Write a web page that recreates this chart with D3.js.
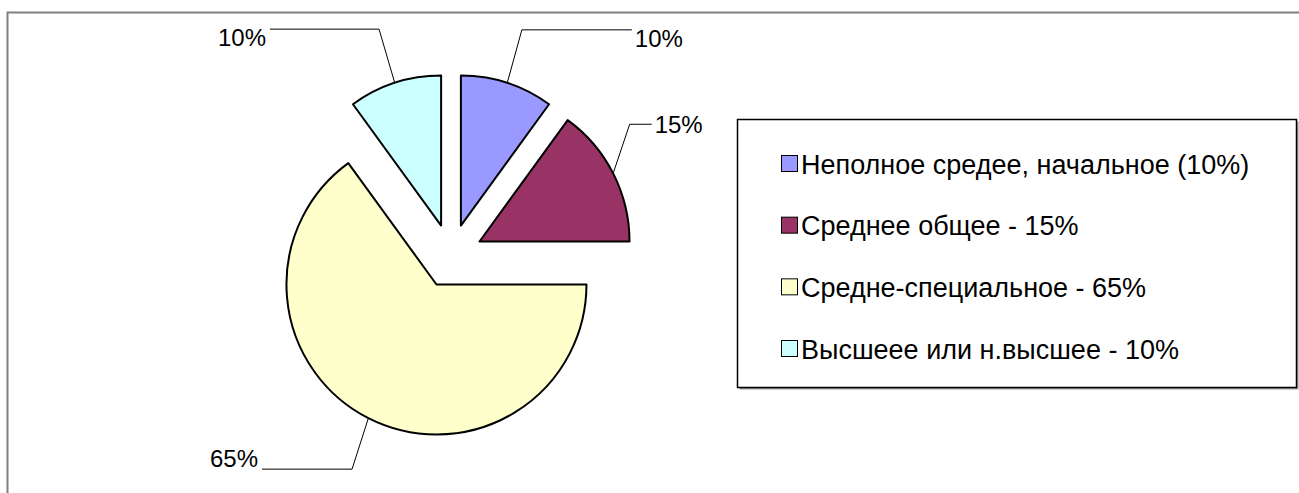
<!DOCTYPE html>
<html lang="ru">
  <head>
    <meta charset="utf-8">
    <title>Образование</title>
    <script src="https://d3js.org/d3.v7.min.js"></script>
    <style>
      body { margin: 0; background: #fff; }
      text { font-family: "Liberation Sans", Arial, sans-serif; fill: #000; }
    </style>
  </head>
  <body>
    <script>
      // data
      const categories = ["Неполное средее, начальное (10%)", "Среднее общее - 15%",
                          "Средне-специальное - 65%", "Высшеее или н.высшее - 10%"];
      const shares = [10, 15, 65, 10];
      const valueLabels = ["10%", "15%", "65%", "10%"];
      const colors = ["#9999ff", "#993366", "#ffffcc", "#ccffff"];

      // label leader layout: elbow angle (deg), elbow radius, horizontal run, text baseline offset
      const leaders = [
        {ang: 17.4, rad: 237, run: 110, dy: 17},
        {ang: 53.6, rad: 222, run: 22, dy: 9},
        {ang: 204.9, rad: 235, run: -90, dy: -2},
        {ang: -17.6, rad: 238, run: -109, dy: 17}
      ];

      const width = 1299, height = 493;
      const cx = 451, cy = 256, radius = 150, explode = 32;

      const svg = d3.select("body").append("svg")
                    .attr("width", width)
                    .attr("height", height);

      // chart area border (runs off the right and bottom)
      svg.append("rect")
         .attr("x", 7.5).attr("y", 12.5)
         .attr("width", 1400).attr("height", 600)
         .attr("fill", "none")
         .attr("stroke", "#808080")
         .attr("stroke-width", 2);

      const pie = d3.pie().sort(null).value(d => d);
      const arc = d3.arc().innerRadius(0).outerRadius(radius);
      const arcs = pie(shares);

      const g = svg.append("g").attr("transform", `translate(${cx},${cy})`);

      g.selectAll("path").data(arcs).enter().append("path")
       .attr("d", arc)
       .attr("transform", d => {
         const m = (d.startAngle + d.endAngle) / 2;
         return `translate(${explode * Math.sin(m)},${-explode * Math.cos(m)})`;
       })
       .attr("fill", (d, i) => colors[i])
       .attr("stroke", "#000")
       .attr("stroke-width", 2)
       .attr("stroke-linejoin", "round");

      // leader lines and value labels
      arcs.forEach((d, i) => {
        const m = (d.startAngle + d.endAngle) / 2;
        const r0 = radius + explode;
        const p0 = [r0 * Math.sin(m), -r0 * Math.cos(m)];
        const a = leaders[i].ang * Math.PI / 180;
        const p1 = [leaders[i].rad * Math.sin(a), -leaders[i].rad * Math.cos(a)];
        const p2 = [p1[0] + leaders[i].run, p1[1]];
        g.append("polyline")
         .attr("points", [p0, p1, p2].map(p => p.join(",")).join(" "))
         .attr("fill", "none")
         .attr("stroke", "#000")
         .attr("stroke-width", 1);
        const right = leaders[i].run > 0;
        g.append("text")
         .attr("x", p2[0] + (right ? 3 : -4))
         .attr("y", p1[1] + leaders[i].dy)
         .attr("text-anchor", right ? "start" : "end")
         .attr("font-size", 24)
         .text(valueLabels[i]);
      });

      // legend
      const lx = 737.5, ly = 119.5, lw = 559, lh = 268;
      svg.append("rect")
         .attr("x", lx + 2).attr("y", ly + 2)
         .attr("width", lw).attr("height", lh)
         .attr("fill", "#999");
      svg.append("rect")
         .attr("x", lx).attr("y", ly)
         .attr("width", lw).attr("height", lh)
         .attr("fill", "#fff")
         .attr("stroke", "#000")
         .attr("stroke-width", 1.5);

      const rowY = d3.scalePoint().domain(categories).range([164, 349]);
      const items = svg.selectAll(".item").data(categories).enter().append("g")
                       .attr("transform", d => `translate(781,${rowY(d)})`);
      items.append("rect")
           .attr("x", 0.5).attr("y", -8.5)
           .attr("width", 16).attr("height", 16)
           .attr("fill", (d, i) => colors[i])
           .attr("stroke", "#000")
           .attr("stroke-width", 1);
      items.append("text")
           .attr("x", 20)
           .attr("y", 9.5)
           .attr("font-size", 27)
           .text(d => d);
    </script>
  </body>
</html>
